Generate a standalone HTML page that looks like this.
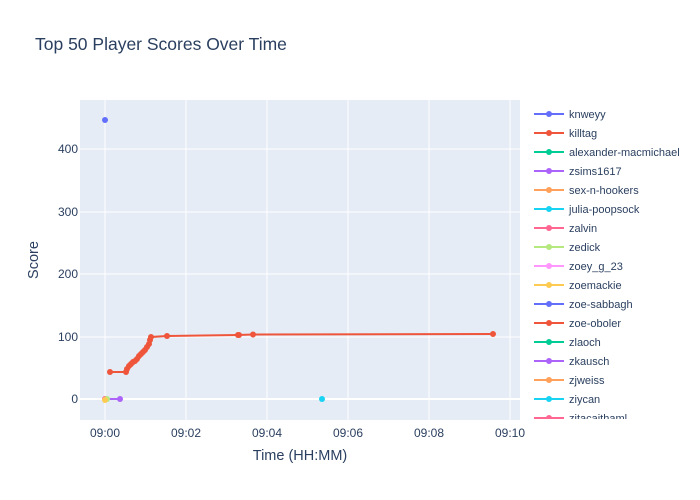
<!DOCTYPE html>
<html><head><meta charset="utf-8"><style>body{margin:0;background:#fff}svg{display:block;font-family:"Liberation Sans",sans-serif}</style></head>
<body>
<svg width="700" height="500" viewBox="0 0 700 500">
<rect width="700" height="500" fill="#fff"/>
<text x="35" y="50" font-size="17.5" fill="#2a3f5f">Top 50 Player Scores Over Time</text>
<rect x="80" y="100" width="440" height="320" fill="#e5ecf6"/>
<g stroke="#fff" stroke-width="1">
<line x1="105" y1="100" x2="105" y2="420"/><line x1="186" y1="100" x2="186" y2="420"/><line x1="267" y1="100" x2="267" y2="420"/><line x1="348" y1="100" x2="348" y2="420"/><line x1="429" y1="100" x2="429" y2="420"/><line x1="510" y1="100" x2="510" y2="420"/>
<line x1="80" y1="149" x2="520" y2="149"/><line x1="80" y1="212" x2="520" y2="212"/><line x1="80" y1="274" x2="520" y2="274"/><line x1="80" y1="337" x2="520" y2="337"/><line x1="80" y1="399" x2="520" y2="399" stroke-width="2"/>
</g>
<g font-size="12" fill="#2a3f5f" text-anchor="end">
<text x="78" y="153">400</text><text x="78" y="216">300</text><text x="78" y="278">200</text><text x="78" y="341">100</text><text x="78" y="403">0</text>
</g>
<g font-size="12" fill="#2a3f5f" text-anchor="middle">
<text x="105" y="437">09:00</text><text x="186" y="437">09:02</text><text x="267" y="437">09:04</text><text x="348" y="437">09:06</text><text x="429" y="437">09:08</text><text x="510" y="437">09:10</text>
</g>
<text x="300" y="460" font-size="14.5" fill="#2a3f5f" text-anchor="middle">Time (HH:MM)</text>
<text x="38" y="260" font-size="14.5" fill="#2a3f5f" text-anchor="middle" transform="rotate(-90 38 260)">Score</text>
<polyline points="105,399 120,399" stroke="#ab63fa" stroke-width="2" fill="none"/>
<circle cx="120" cy="399" r="3" fill="#ab63fa"/>
<polyline points="110,372 126,372 128,368 131,365 134,362 137,359 140,356 143,352 146,348 149,343 151,337 167,336 238,335 253,334.5 493,334" stroke="#ef553b" stroke-width="2" fill="none"/>
<g fill="#ef553b">
<circle cx="110" cy="372" r="3"/><circle cx="126" cy="372" r="3"/><circle cx="127" cy="369" r="3"/><circle cx="129" cy="366" r="3"/><circle cx="131" cy="364" r="3"/><circle cx="133" cy="362" r="3"/><circle cx="135" cy="361" r="3"/><circle cx="137" cy="359" r="3"/><circle cx="139" cy="356" r="3"/><circle cx="141" cy="354" r="3"/><circle cx="143" cy="352" r="3"/><circle cx="145" cy="350" r="3"/><circle cx="147" cy="347" r="3"/><circle cx="149" cy="344" r="3"/><circle cx="150" cy="340" r="3"/><circle cx="151" cy="337" r="3"/><circle cx="167" cy="336" r="3"/><circle cx="238" cy="335" r="3"/><circle cx="239" cy="335" r="3"/><circle cx="253" cy="334.5" r="3"/><circle cx="493" cy="334" r="3"/>
</g>
<circle cx="105" cy="120" r="3" fill="#636efa"/>
<circle cx="322" cy="399" r="3" fill="#19d3f3"/>
<circle cx="105" cy="399" r="3" fill="#ff6692"/>
<circle cx="107" cy="399" r="3" fill="#b6e880"/>
<circle cx="105" cy="400" r="3" fill="#fecb52"/>
<defs><clipPath id="lc"><rect x="525" y="100" width="175" height="319"/></clipPath></defs>
<g clip-path="url(#lc)" font-size="11" fill="#2a3f5f" stroke-width="2">
<line x1="534" y1="114" x2="564" y2="114" stroke="#636efa"/><circle cx="549" cy="114" r="3" fill="#636efa"/><text x="569" y="118">knweyy</text>
<line x1="534" y1="133" x2="564" y2="133" stroke="#ef553b"/><circle cx="549" cy="133" r="3" fill="#ef553b"/><text x="569" y="137">killtag</text>
<line x1="534" y1="152" x2="564" y2="152" stroke="#00cc96"/><circle cx="549" cy="152" r="3" fill="#00cc96"/><text x="569" y="156">alexander-macmichael</text>
<line x1="534" y1="171" x2="564" y2="171" stroke="#ab63fa"/><circle cx="549" cy="171" r="3" fill="#ab63fa"/><text x="569" y="175">zsims1617</text>
<line x1="534" y1="190" x2="564" y2="190" stroke="#ffa15a"/><circle cx="549" cy="190" r="3" fill="#ffa15a"/><text x="569" y="194">sex-n-hookers</text>
<line x1="534" y1="209" x2="564" y2="209" stroke="#19d3f3"/><circle cx="549" cy="209" r="3" fill="#19d3f3"/><text x="569" y="213">julia-poopsock</text>
<line x1="534" y1="228" x2="564" y2="228" stroke="#ff6692"/><circle cx="549" cy="228" r="3" fill="#ff6692"/><text x="569" y="232">zalvin</text>
<line x1="534" y1="247" x2="564" y2="247" stroke="#b6e880"/><circle cx="549" cy="247" r="3" fill="#b6e880"/><text x="569" y="251">zedick</text>
<line x1="534" y1="266" x2="564" y2="266" stroke="#ff97ff"/><circle cx="549" cy="266" r="3" fill="#ff97ff"/><text x="569" y="270">zoey_g_23</text>
<line x1="534" y1="285" x2="564" y2="285" stroke="#fecb52"/><circle cx="549" cy="285" r="3" fill="#fecb52"/><text x="569" y="289">zoemackie</text>
<line x1="534" y1="304" x2="564" y2="304" stroke="#636efa"/><circle cx="549" cy="304" r="3" fill="#636efa"/><text x="569" y="308">zoe-sabbagh</text>
<line x1="534" y1="323" x2="564" y2="323" stroke="#ef553b"/><circle cx="549" cy="323" r="3" fill="#ef553b"/><text x="569" y="327">zoe-oboler</text>
<line x1="534" y1="342" x2="564" y2="342" stroke="#00cc96"/><circle cx="549" cy="342" r="3" fill="#00cc96"/><text x="569" y="346">zlaoch</text>
<line x1="534" y1="361" x2="564" y2="361" stroke="#ab63fa"/><circle cx="549" cy="361" r="3" fill="#ab63fa"/><text x="569" y="365">zkausch</text>
<line x1="534" y1="380" x2="564" y2="380" stroke="#ffa15a"/><circle cx="549" cy="380" r="3" fill="#ffa15a"/><text x="569" y="384">zjweiss</text>
<line x1="534" y1="399" x2="564" y2="399" stroke="#19d3f3"/><circle cx="549" cy="399" r="3" fill="#19d3f3"/><text x="569" y="403">ziycan</text>
<line x1="534" y1="418" x2="564" y2="418" stroke="#ff6692"/><circle cx="549" cy="418" r="3" fill="#ff6692"/><text x="569" y="422">zitacaithaml</text>
</g>
</svg>
</body></html>
